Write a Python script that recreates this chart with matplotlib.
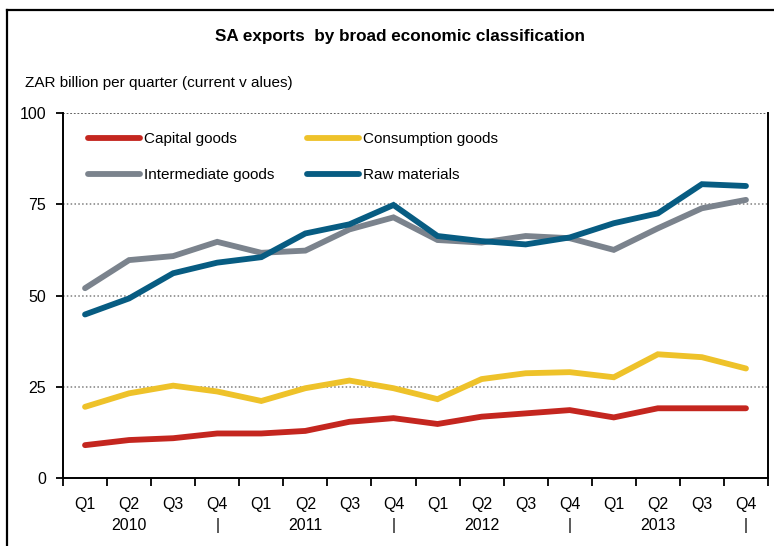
import numpy as np
import matplotlib.pyplot as plt
from matplotlib.lines import Line2D
from matplotlib.ticker import FixedLocator

plt.rcParams['font.family'] = ['Liberation Sans', 'DejaVu Sans']

quarters = ['Q1', 'Q2', 'Q3', 'Q4'] * 4
year_row = ['', '2010', '', '|', '', '2011', '', '|', '', '2012', '', '|', '', '2013', '', '|']

capital = [9.0, 10.4, 10.9, 12.2, 12.2, 12.9, 15.4, 16.4,
           14.8, 16.8, 17.7, 18.6, 16.6, 19.1, 19.1, 19.1]
consumption = [19.5, 23.2, 25.3, 23.7, 21.1, 24.6, 26.7, 24.6,
               21.6, 27.1, 28.7, 29.0, 27.6, 33.9, 33.1, 30.0]
intermediate = [52.0, 59.7, 60.8, 64.7, 61.7, 62.3, 68.1, 71.4,
                65.2, 64.5, 66.3, 65.7, 62.5, 68.4, 73.9, 76.2]
raw = [44.8, 49.2, 56.1, 59.0, 60.5, 67.0, 69.5, 74.8,
       66.3, 64.9, 64.0, 65.9, 69.8, 72.5, 80.5, 80.0]

series = [
    ('Capital goods', capital, '#C4261F'),
    ('Consumption goods', consumption, '#EEC22A'),
    ('Intermediate goods', intermediate, '#7B838D'),
    ('Raw materials', raw, '#075C82'),
]

W, H = 774, 546
fig = plt.figure(figsize=(W / 100, H / 100), dpi=100)
ax = fig.add_axes([63 / W, 1 - 478 / H, (768 - 63) / W, (478 - 113) / H])

x = np.arange(len(quarters))
lines = {}
for name, vals, col in series:
    lines[name], = ax.plot(x, vals, color=col, lw=4.2, solid_capstyle='round',
                           solid_joinstyle='miter', label=name, zorder=3)

ax.set_xlim(-0.5, len(quarters) - 0.5)
ax.set_ylim(0, 100)
ax.set_yticks([0, 25, 50, 75, 100])
for v in [25, 50, 75]:
    ax.axhline(v, color='#7f7f7f', lw=1.1, ls=(0, (1, 1.5)), zorder=1)
ax.axhline(100, color='#555555', lw=1.3, ls=(0, (1, 1)), zorder=1)

ax.set_xticks(x)
ax.set_xticklabels([f'{q}\n{y}' for q, y in zip(quarters, year_row)],
                   linespacing=1.5)
ax.xaxis.set_minor_locator(FixedLocator(np.arange(-0.5, len(quarters), 1.0)))
ax.tick_params(axis='x', which='major', length=0, pad=14, labelsize=11.5)
ax.tick_params(axis='x', which='minor', length=6, width=1.3, direction='out')
ax.tick_params(axis='y', length=5, width=1.3, direction='out', pad=7, labelsize=11.5)

ax.spines['top'].set_visible(False)
for side in ['left', 'bottom', 'right']:
    ax.spines[side].set_linewidth(1.4)

# legend filled column by column, so order gives two rows of two
order = ['Capital goods', 'Intermediate goods', 'Consumption goods', 'Raw materials']
leg = ax.legend([lines[n] for n in order], order, loc='upper left', ncol=2,
                frameon=False, fontsize=11, handlelength=3.4, handletextpad=0.3,
                columnspacing=2.1, labelspacing=1.45,
                bbox_to_anchor=(0.035, 0.947), borderaxespad=0.0, borderpad=0.0)
for h in leg.get_lines():
    h.set_linewidth(4.2)

fig.text(400 / W, 1 - 37 / H, 'SA exports  by broad economic classification',
         ha='center', va='center', fontsize=12.3, fontweight='bold')
fig.text(25 / W, 1 - 83 / H, 'ZAR billion per quarter (current v alues)',
         ha='left', va='center', fontsize=11)

# outer chart frame
fig.add_artist(Line2D([7 / W, 7 / W], [0, 1 - 10 / H], color='black', lw=1.6,
                      transform=fig.transFigure))
fig.add_artist(Line2D([7 / W, 1], [1 - 10 / H, 1 - 10 / H], color='black', lw=1.6,
                      transform=fig.transFigure))

fig.savefig('out.png', dpi=100)
